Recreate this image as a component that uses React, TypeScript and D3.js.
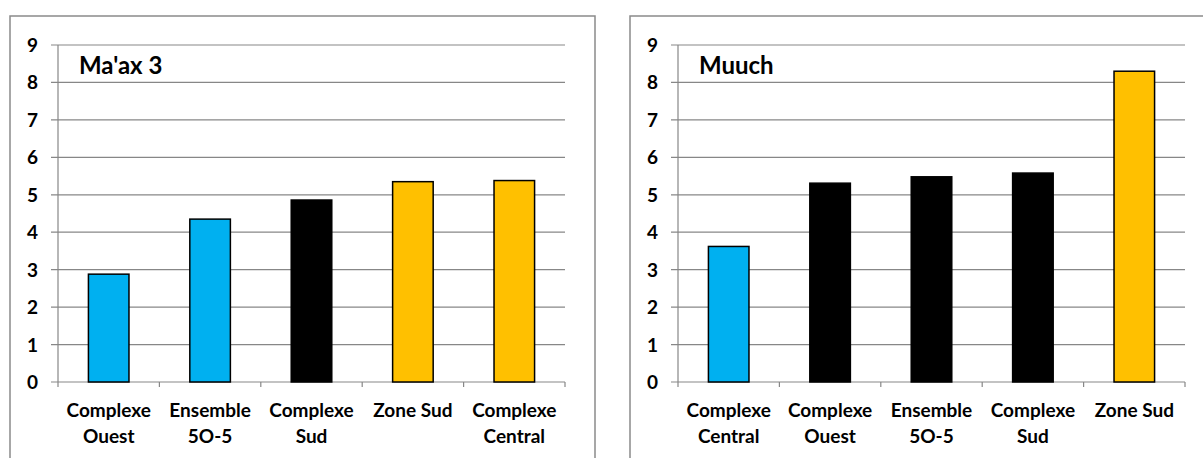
import React from "react";
import * as d3 from "d3";

const leftTitle = "Ma'ax 3";
const leftCategories = ["Complexe\nOuest", "Ensemble\n5O-5", "Complexe\nSud", "Zone Sud", "Complexe\nCentral"];
const leftValues = [2.88, 4.35, 4.86, 5.35, 5.38];
const leftColors = ["#00B0F0", "#00B0F0", "#000000", "#FFC000", "#FFC000"];

const rightTitle = "Muuch";
const rightCategories = ["Complexe\nCentral", "Complexe\nOuest", "Ensemble\n5O-5", "Complexe\nSud", "Zone Sud"];
const rightValues = [3.62, 5.31, 5.48, 5.58, 8.3];
const rightColors = ["#00B0F0", "#000000", "#000000", "#000000", "#FFC000"];

const yTicks = [0, 1, 2, 3, 4, 5, 6, 7, 8, 9];

const FONT = "Lato, 'Open Sans', sans-serif";
const GRID = "#878787";

type PanelProps = {
  ox: number;
  title: string;
  categories: string[];
  values: number[];
  colors: string[];
};

function Panel({ ox, title, categories, values, colors }: PanelProps) {
  const x0 = 58;
  const x1 = 565;
  const yTop = 45;
  const yBot = 382;
  const x = d3.scaleBand<string>().domain(categories).range([x0, x1]).paddingInner(0.6).paddingOuter(0.3);
  const xOuter = d3.scaleBand<string>().domain(categories).range([x0, x1]);
  const y = d3.scaleLinear().domain([0, 9]).range([yBot, yTop]);
  return (
    <g transform={`translate(${ox},0)`}>
      <rect x={10} y={16} width={585} height={460} fill="white" stroke="#8a8a8a" strokeWidth={1.5} />
      {yTicks.map((t) => (
        <g key={t}>
          <line x1={x0 - 7} x2={x1} y1={y(t)} y2={y(t)} stroke={GRID} strokeWidth={1.2} />
          <text x={38} y={y(t) + 7} textAnchor="end" fontFamily={FONT} fontWeight={700} fontSize={19} fill="#000">
            {t}
          </text>
        </g>
      ))}
      <line x1={x0} x2={x0} y1={yTop} y2={yBot} stroke={GRID} strokeWidth={1.2} />
      {categories.map((c, i) => (
        <line key={"tk" + i} x1={xOuter(c)!} x2={xOuter(c)!} y1={yBot} y2={yBot + 5} stroke={GRID} strokeWidth={1.2} />
      ))}
      <line x1={x1} x2={x1} y1={yBot} y2={yBot + 5} stroke={GRID} strokeWidth={1.2} />
      {categories.map((c, i) => (
        <rect
          key={"b" + i}
          x={x(c)!}
          y={y(values[i])}
          width={x.bandwidth()}
          height={y(0) - y(values[i])}
          fill={colors[i]}
          stroke="#000"
          strokeWidth={1.5}
        />
      ))}
      {categories.map((c, i) => {
        const cx = xOuter(c)! + xOuter.bandwidth() / 2;
        const lines = c.split("\n");
        return (
          <text key={"l" + i} x={cx} y={417} textAnchor="middle" fontFamily={FONT} fontWeight={700} fontSize={19} fill="#000">
            {lines.map((ln, j) => (
              <tspan key={j} x={cx} y={417 + j * 26}>
                {ln}
              </tspan>
            ))}
          </text>
        );
      })}
      <text x={79} y={74} fontFamily={FONT} fontWeight={700} fontSize={24} fill="#000">
        {title}
      </text>
    </g>
  );
}

export default function App() {
  return (
    <svg width={1203} height={458} style={{ position: "absolute", left: 0, top: 0, background: "white" }}>
      <rect width={1203} height={458} fill="white" />
      <Panel ox={0} title={leftTitle} categories={leftCategories} values={leftValues} colors={leftColors} />
      <Panel ox={620} title={rightTitle} categories={rightCategories} values={rightValues} colors={rightColors} />
    </svg>
  );
}
